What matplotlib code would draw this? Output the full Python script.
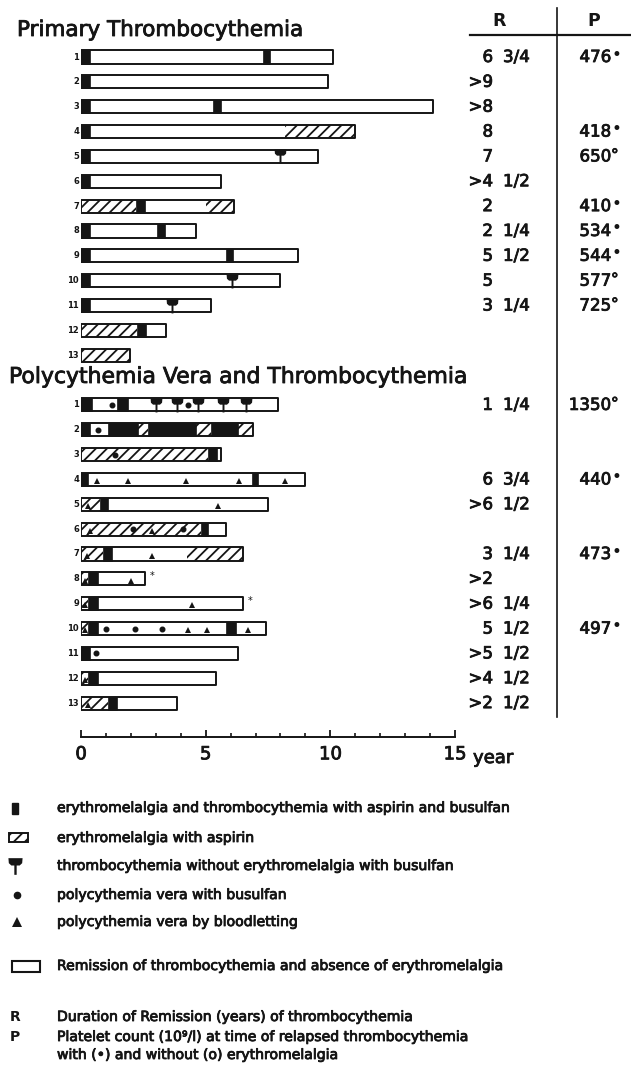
import numpy as np
import matplotlib.pyplot as plt
import matplotlib.patheffects as pe
from matplotlib.path import Path
from matplotlib.patches import Rectangle
from matplotlib.transforms import blended_transform_factory

# ---- données (années) ----
# Primary Thrombocythemia, patients 1..13
pt_end = [10.1, 9.9, 14.1, 11.0, 9.5, 5.6, 6.15, 4.6, 8.7, 8.0, 5.2, 3.4, 1.95]
pt_black = [[(0, 0.35), (7.3, 7.6)], [(0, 0.35)], [(0, 0.35), (5.3, 5.6)], [(0, 0.35)],
            [(0, 0.35)], [(0, 0.35)], [(2.2, 2.55)], [(0, 0.35), (3.05, 3.35)],
            [(0, 0.35), (5.8, 6.1)], [(0, 0.35)], [(0, 0.35)], [(2.25, 2.6)], []]
pt_hatch = [[], [], [], [(8.2, 11.0)], [], [], [(0, 2.2), (5.0, 6.15)], [], [], [], [],
            [(0, 2.25)], [(0, 1.95)]]
pt_T = [[], [], [], [], [8.0], [], [], [], [], [6.05], [3.65], [], []]
pt_R = ["6 3/4", ">9", ">8", "8", "7", ">4 1/2", "2", "2 1/4", "5 1/2", "5", "3 1/4", "", ""]
pt_P = ["476•", "", "", "418•", "650°", "", "410•", "534•", "544•", "577°", "725°", "", ""]

# Polycythemia Vera and Thrombocythemia, patients 1..13
pv_end = [7.9, 6.9, 5.6, 9.0, 7.5, 5.8, 6.5, 2.55, 6.5, 7.4, 6.3, 5.4, 3.85]
pv_black = [[(0, 0.45), (1.45, 1.9)], [(0, 0.35), (1.1, 2.3), (2.7, 4.6), (5.2, 6.3)],
            [(5.1, 5.45)], [(0, 0.3), (6.85, 7.1)], [(0.75, 1.1)], [(4.8, 5.1)],
            [(0.9, 1.25)], [(0.3, 0.7)], [(0.3, 0.7)], [(0.3, 0.7), (5.8, 6.2)],
            [(0, 0.35)], [(0.3, 0.7)], [(1.1, 1.45)]]
pv_hatch = [[], [(2.3, 2.7), (4.6, 5.2), (6.3, 6.9)], [(0, 5.1)], [], [(0, 0.75)], [(0, 4.8)],
            [(0, 0.9), (4.25, 6.5)], [(0, 0.3)], [(0, 0.3)], [(0, 0.3)], [], [(0, 0.3)],
            [(0, 1.1)]]
pv_T = [[3.0, 3.85, 4.7, 5.7, 6.6], [], [], [], [], [], [], [], [], [], [], [], []]
pv_dot = [[1.25, 4.3], [0.7], [1.35], [], [], [2.1, 4.1], [], [], [], [1.0, 2.15, 3.25],
          [0.6], [], []]
pv_tri = [[], [], [], [0.65, 1.9, 4.2, 6.35, 8.2], [0.3, 5.5], [0.35, 2.85], [0.25, 2.85],
          [0.15, 2.0], [0.15, 4.45], [0.15, 4.3, 5.05, 6.7], [], [0.15], [0.3]]
pv_star = [[], [], [], [], [], [], [], [2.85], [6.8], [], [], [], []]
pv_R = ["1 1/4", "", "", "6 3/4", ">6 1/2", "", "3 1/4", ">2", ">6 1/4", "5 1/2",
        ">5 1/2", ">4 1/2", ">2 1/2"]
pv_P = ["1350°", "", "", "440•", "", "", "473•", "", "", "497•", "", "", ""]

legend_txt = ["erythromelalgia and thrombocythemia with aspirin and busulfan",
              "erythromelalgia with aspirin",
              "thrombocythemia without erythromelalgia with busulfan",
              "polycythemia vera with busulfan",
              "polycythemia vera by bloodletting",
              "Remission of thrombocythemia and absence of erythromelalgia"]

INK = '#151515'
plt.rcParams['font.family'] = ['DejaVu Sans']
plt.rcParams['hatch.linewidth'] = 1.3
# texte un peu plus gras, comme sur le scan
THICK = [pe.withStroke(linewidth=0.6, foreground=INK)]

W, H = 631, 1072
fig = plt.figure(figsize=(W / 100, H / 100), dpi=100)

# repère en pixels pour titres, tableau, légende
ov = fig.add_axes([0, 0, 1, 1])
ov.set_xlim(0, W)
ov.set_ylim(H, 0)
ov.axis('off')

# axe principal : x en années, y en rangées
ROW0, PITCH, BOT = 57, 24.85, 770
ax = fig.add_axes([81 / W, 1 - BOT / H, 374 / W, BOT / H])
ax.set_xlim(0, 15)
ax.set_ylim((BOT - ROW0) / PITCH, -ROW0 / PITCH)
ax.patch.set_alpha(0)
bt = blended_transform_factory(ov.transData, ax.transData)

# marqueur "T" (thrombocytémie sans érythromélalgie)
tv = [(-0.85, 1), (0.85, 1), (0.8, 0.4), (0.5, 0.12), (0.14, 0.12), (0.14, -1),
      (-0.14, -1), (-0.14, 0.12), (-0.5, 0.12), (-0.8, 0.4), (-0.85, 1)]
T_MARK = Path(tv, [Path.MOVETO] + [Path.LINETO] * (len(tv) - 2) + [Path.CLOSEPOLY])

BH = 0.53


def draw_group(rows, ends, blacks, hatches, Ts, dots, tris, stars):
    for i, r in enumerate(rows):
        y0 = r - BH / 2
        ax.broken_barh([(0, ends[i])], (y0, BH), facecolor='white', edgecolor='none', zorder=2)
        if hatches[i]:
            ax.broken_barh([(a, b - a) for a, b in hatches[i]], (y0, BH), facecolor='white',
                           edgecolor=INK, hatch='///', lw=0, zorder=3)
        if blacks[i]:
            ax.broken_barh([(a, b - a) for a, b in blacks[i]], (y0, BH), facecolor=INK,
                           edgecolor=INK, lw=0.5, zorder=4)
        ax.broken_barh([(0, ends[i])], (y0, BH), facecolor='none', edgecolor=INK,
                       lw=1.4, zorder=5)
        if Ts[i]:
            ax.plot(Ts[i], [r] * len(Ts[i]), ls='none', marker=T_MARK, ms=10,
                    color=INK, mew=0, zorder=6)
        if dots[i]:
            ax.plot(dots[i], [r] * len(dots[i]), ls='none', marker='o', ms=3.3,
                    color=INK, zorder=6)
        if tris[i]:
            ax.plot(tris[i], [r + 0.07] * len(tris[i]), ls='none', marker='^', ms=5,
                    color=INK, mew=0, zorder=6)
        for s in stars[i]:
            ax.text(s, r - 0.12, '*', fontsize=7, color=INK, ha='center', va='center')
        ov.text(79, r, str(i + 1), transform=bt, fontsize=6, fontweight='bold',
                color=INK, ha='right', va='center')


def draw_table(rows, Rv, Pv):
    for r, rv, pv in zip(rows, Rv, Pv):
        if rv:
            parts = rv.split(' ')
            ov.text(493, r, parts[0], transform=bt, fontsize=12, color=INK,
                    ha='right', va='center', path_effects=THICK)
            if len(parts) > 1:
                ov.text(503, r, parts[1], transform=bt, fontsize=12, color=INK,
                        ha='left', va='center', path_effects=THICK)
        if pv:
            ov.text(611, r, pv[:-1], transform=bt, fontsize=12, color=INK,
                    ha='right', va='center', path_effects=THICK)
            if pv[-1] == '•':
                ov.text(611, r - 0.1, pv[-1], transform=bt, fontsize=12, color=INK,
                        ha='left', va='center')
            else:
                ov.text(611, r - 0.05, pv[-1], transform=bt, fontsize=11, color=INK,
                        ha='left', va='center', path_effects=THICK)


n = len(pt_end)
pt_rows = list(range(n))
pv_rows = list(range(n + 1, 2 * n + 1))
empty = [[] for _ in range(n)]
draw_group(pt_rows, pt_end, pt_black, pt_hatch, pt_T, empty, empty, empty)
draw_group(pv_rows, pv_end, pv_black, pv_hatch, pv_T, pv_dot, pv_tri, pv_star)
draw_table(pt_rows, pt_R, pt_P)
draw_table(pv_rows, pv_R, pv_P)

# titres
ov.text(17, 30, 'Primary Thrombocythemia', fontsize=15.5, color=INK, va='center',
        path_effects=THICK)
ov.text(9, 377, 'Polycythemia Vera and Thrombocythemia', fontsize=15.8, color=INK,
        va='center', path_effects=THICK)

# en-tête du tableau
ov.text(499, 21, 'R', fontsize=12.5, fontweight='bold', color=INK, ha='center', va='center')
ov.text(594, 21, 'P', fontsize=12.5, fontweight='bold', color=INK, ha='center', va='center')
ov.plot([470, 631], [35, 35], color=INK, lw=1.6)
ov.plot([557, 557], [8, 717], color=INK, lw=1.2)

# axe des temps
for s in ['top', 'left', 'right']:
    ax.spines[s].set_visible(False)
ax.spines['bottom'].set_position(('data', (737 - ROW0) / PITCH))
ax.spines['bottom'].set_bounds(0, 15)
ax.spines['bottom'].set_linewidth(1.4)
ax.spines['bottom'].set_color(INK)
ax.set_yticks([])
ax.set_xticks([0, 5, 10, 15])
ax.set_xticklabels(['0', '5', '10', '15'])
ax.set_xticks(np.arange(16), minor=True)
ax.tick_params(axis='x', which='major', direction='in', length=5, width=1.3,
               labelsize=13, pad=6, colors=INK)
ax.tick_params(axis='x', which='minor', direction='in', length=3, width=1.2, colors=INK)
for lab in ax.get_xticklabels():
    lab.set_path_effects(THICK)
ov.text(473, 758, 'year', fontsize=13, color=INK, va='center', path_effects=THICK)

# légende
ov.add_patch(Rectangle((12, 803), 6, 11, facecolor=INK, edgecolor=INK))
ov.add_patch(Rectangle((9, 833), 19, 9, facecolor='white', edgecolor=INK, hatch='///', lw=1.4))
ov.plot([15], [866], marker=T_MARK, ms=12, color=INK, mew=0)
ov.plot([17], [895], marker='o', ms=4.5, color=INK)
ov.plot([17], [922], marker='^', ms=6.5, color=INK, mew=0)
ov.add_patch(Rectangle((12, 961), 28, 11, facecolor='white', edgecolor=INK, lw=1.5))
leg_y = [808, 838, 866, 895, 922, 966]
for yy, t in zip(leg_y, legend_txt):
    ov.text(57, yy, t, fontsize=10.1, color=INK, va='center', path_effects=THICK)

ov.text(15, 1017, 'R', fontsize=10, fontweight='bold', color=INK, ha='center', va='center')
ov.text(57, 1017, 'Duration of Remission (years) of thrombocythemia', fontsize=10.1,
        color=INK, va='center', path_effects=THICK)
ov.text(15, 1037, 'P', fontsize=10, fontweight='bold', color=INK, ha='center', va='center')
ov.text(57, 1037, 'Platelet count (10⁹/l) at time of relapsed thrombocythemia',
        fontsize=10.1, color=INK, va='center', path_effects=THICK)
ov.text(57, 1055, 'with (•) and without (o) erythromelalgia', fontsize=10.1,
        color=INK, va='center', path_effects=THICK)

fig.savefig('out.png', dpi=100, facecolor='white')
